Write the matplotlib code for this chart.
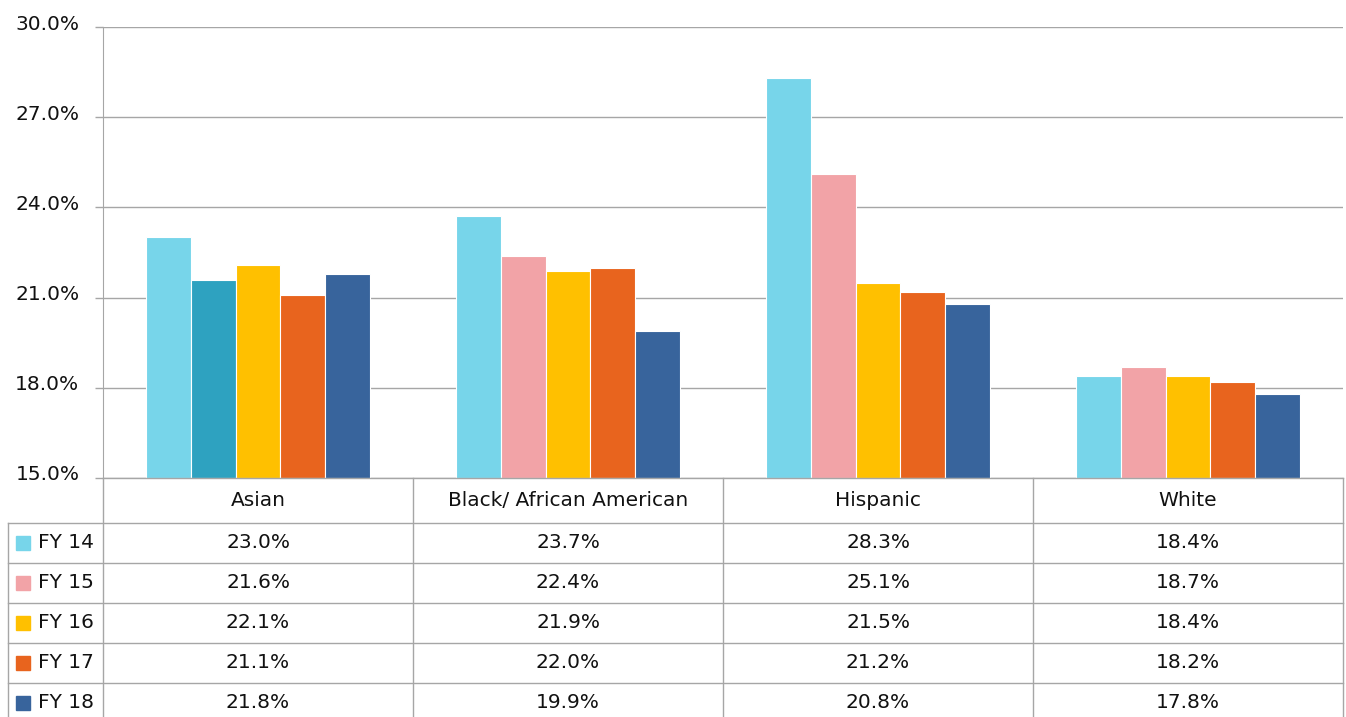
import matplotlib
matplotlib.use("Agg")
import matplotlib.pyplot as plt
import matplotlib.transforms as mtransforms
import numpy as np

categories = ["Asian", "Black/ African American", "Hispanic", "White"]
series_names = ["FY 14", "FY 15", "FY 16", "FY 17", "FY 18"]
fy14 = [23.0, 23.7, 28.3, 18.4]
fy15 = [21.6, 22.4, 25.1, 18.7]
fy16 = [22.1, 21.9, 21.5, 18.4]
fy17 = [21.1, 22.0, 21.2, 18.2]
fy18 = [21.8, 19.9, 20.8, 17.8]
series_values = [fy14, fy15, fy16, fy17, fy18]
yticks = [15.0, 18.0, 21.0, 24.0, 27.0, 30.0]

colors = ["#77D5EA", "#F2A3A7", "#FFC000", "#E8641E", "#38649C"]
# the original chart shows the Asian FY 15 bar in teal
bar_colors = [[c] * len(categories) for c in colors]
bar_colors[1][0] = "#2EA2C0"

GRID = "#A6A6A6"
TEXT = "#111111"
FS = 14.5

plt.rcParams["font.family"] = ["DejaVu Sans"]

W, H = 1346, 717
fig = plt.figure(figsize=(W / 100, H / 100), dpi=100)

left_px, right_px, top_px, bottom_px = 103, 1343, 27, 478
ax = fig.add_axes([left_px / W, 1 - bottom_px / H,
                   (right_px - left_px) / W, (bottom_px - top_px) / H])

x = np.arange(len(categories))
bw = 0.144
for k, vals in enumerate(series_values):
    ax.bar(x + (k - 2) * bw, np.array(vals) - yticks[0], bottom=yticks[0],
           width=bw, color=bar_colors[k], edgecolor="white", linewidth=0.8,
           zorder=3)

ax.set_xlim(-0.5, len(categories) - 0.5)
ax.set_ylim(yticks[0], yticks[-1])
ax.set_yticks(yticks)
ax.set_yticklabels([f"{v:.1f}%" for v in yticks], fontsize=FS, color=TEXT)
ax.set_xticks([])
ax.yaxis.grid(True, color=GRID, linewidth=1.0, zorder=0)
for s in ["top", "right", "bottom"]:
    ax.spines[s].set_visible(False)
ax.spines["left"].set_color(GRID)
ax.tick_params(axis="y", length=6, width=1.0, color=GRID, pad=11)
offset = mtransforms.ScaledTranslation(0, 5 / 100, fig.dpi_scale_trans)
for lab in ax.get_yticklabels():
    lab.set_transform(lab.get_transform() + offset)

# data table below the chart
tax = fig.add_axes([left_px / W, 0, (right_px - left_px) / W, (H - bottom_px) / H])
row_h = 40.0
header_h = 45.0 / row_h
visible = (H - bottom_px) / row_h
tax.set_xlim(-0.5, len(categories) - 0.5)
tax.set_ylim(visible, 0)
tax.axis("off")

unit_px = (right_px - left_px) / len(categories)
lab_left = -0.5 - (left_px - 8) / unit_px
n_rows = len(series_names)
bottom_y = header_h + n_rows

kw = dict(color=GRID, linewidth=1.0, clip_on=False)
# vertical lines
for i in range(len(categories) + 1):
    tax.plot([i - 0.5, i - 0.5], [0, bottom_y], **kw)
tax.plot([lab_left, lab_left], [header_h, bottom_y], **kw)
# horizontal lines
tax.plot([-0.5, len(categories) - 0.5], [0, 0], **kw)
for r in range(n_rows + 1):
    tax.plot([lab_left, len(categories) - 0.5], [header_h + r, header_h + r], **kw)

for i, cat in enumerate(categories):
    tax.text(i, header_h / 2, cat, ha="center", va="center", fontsize=FS, color=TEXT)

sq_x = -0.5 - (left_px - 23) / unit_px
txt_x = -0.5 - (left_px - 38) / unit_px
for r, (name, vals) in enumerate(zip(series_names, series_values)):
    yc = header_h + r + 0.5
    tax.plot([sq_x], [yc], marker="s", markersize=10, color=colors[r],
             linestyle="none", clip_on=False)
    tax.text(txt_x, yc, name, ha="left", va="center", fontsize=FS, color=TEXT)
    for i, v in enumerate(vals):
        tax.text(i, yc, f"{v:.1f}%", ha="center", va="center", fontsize=FS, color=TEXT)

fig.savefig("out.png", dpi=100)
